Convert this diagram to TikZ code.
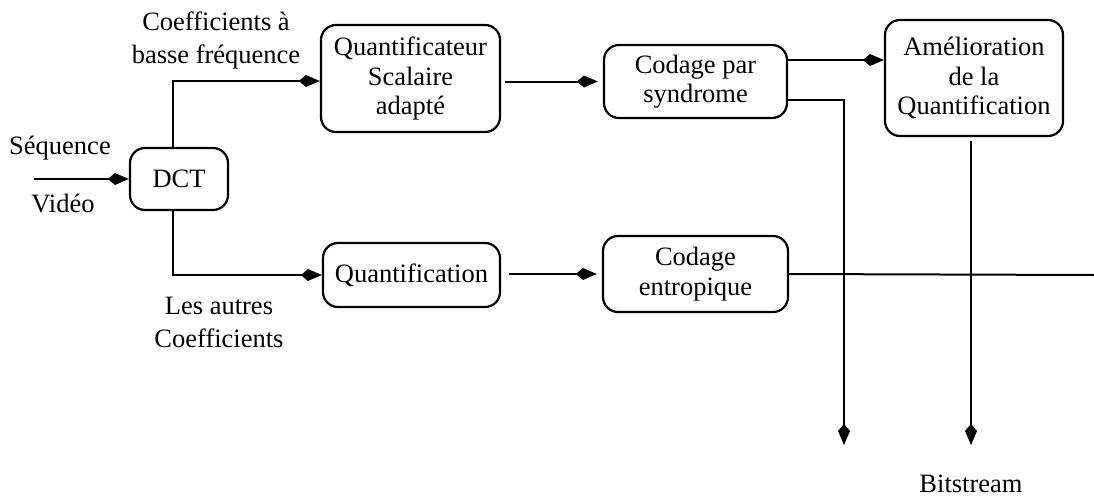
\documentclass[tikz,border=0pt]{standalone}
\usepackage{fontspec}
\setmainfont{Liberation Serif}
\usetikzlibrary{arrows.meta,calc}
\begin{document}
\begin{tikzpicture}[x=1pt,y=-1pt,
  box/.style={draw, line width=2.2pt, rounded corners=15pt, align=center,
    font=\fontsize{26.5}{29.5}\selectfont, inner sep=0pt},
  lbl/.style={align=center, font=\fontsize{26.5}{33}\selectfont, inner sep=0pt},
  conn/.style={line width=2pt},
  arr/.style={conn, -{Kite[length=21pt,width=12pt,inset=7pt]}}]
\useasboundingbox (0,0) rectangle (1094,501);

% boxes
\node[box, minimum width=98pt, minimum height=62pt] (dct) at (179,179) {DCT};
\node[box, minimum width=179pt, minimum height=107pt] (qsa) at (410.5,78.5) {Quantificateur\\Scalaire\\adapt\'e};
\node[box, minimum width=183pt, minimum height=73pt] (cps) at (695.5,81.5) {Codage par\\syndrome};
\node[box, minimum width=178pt, minimum height=116pt] (amq) at (974,78) {Am\'elioration\\de la\\Quantification};
\node[box, minimum width=177pt, minimum height=64pt] (qua) at (411.5,275) {Quantification};
\node[box, minimum width=185pt, minimum height=76pt] (ce) at (695.5,274) {Codage\\entropique};

% labels
\node[lbl] (lseq) at (60,148) {S\'equence};
\node[lbl] (lvid) at (63,203) {Vid\'eo};
\node[lbl] (lcoef) at (216,40) {Coefficients \`a\\basse fr\'equence};
\node[lbl] (laut) at (219,322) {Les autres\\Coefficients};
\node[lbl] (lbit) at (971,484) {Bitstream};

% coordinates
\coordinate (in) at (34,179);
\coordinate (c1) at ([yshift=21.5pt]cps.east);
\coordinate (c2) at ([yshift=-18.5pt]cps.east);
\coordinate (o1) at (844,445);
\coordinate (o2) at (971,445);
\coordinate (o3) at (1094,275);

% connectors
\draw[arr] (in) -- (dct.west);
\draw[arr] ([xshift=-6pt]dct.north) |- ([yshift=-2.5pt]qsa.west);
\draw[arr] ([xshift=-6pt]dct.south) |- (qua.west);
\draw[arr, shorten <=4pt, shorten >=5pt] (qsa.east |- cps.west) -- (cps.west);
\draw[arr, shorten <=8pt, shorten >=5pt] (qua.east |- ce.west) -- (ce.west);
\draw[arr] (c1) -- (c1 -| amq.west);
\draw[arr] (c2) -| (o1);
\draw[arr, shorten <=4pt] (o2 |- amq.south) -- (o2);
\draw[conn] (ce.east) -- (o3);
\end{tikzpicture}
\end{document}
